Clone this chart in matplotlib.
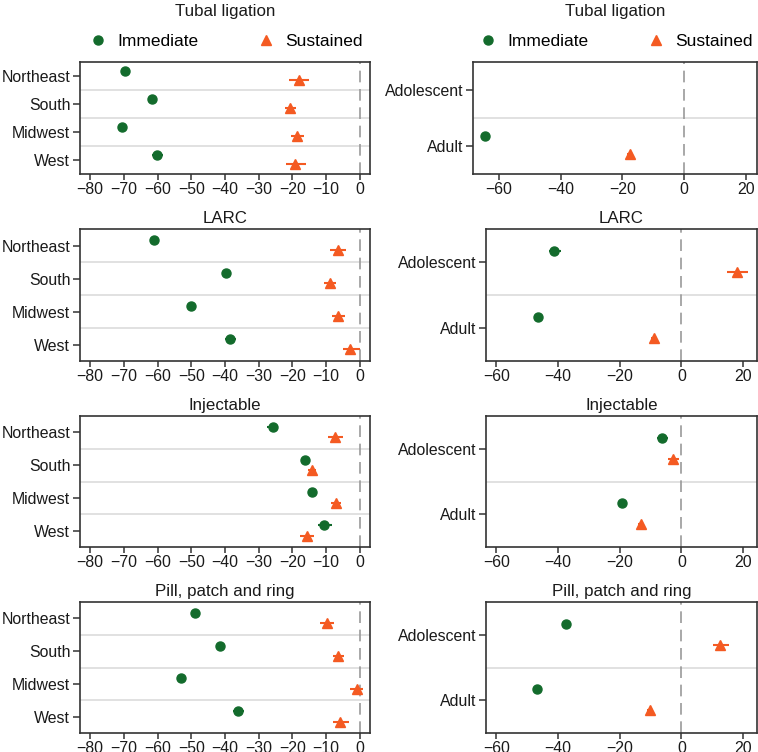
import matplotlib
matplotlib.use("Agg")
import matplotlib.pyplot as plt
from matplotlib.lines import Line2D

plt.rcParams['font.family'] = ['Liberation Sans', 'DejaVu Sans']

# ---------------- data ----------------
methods = ["Tubal ligation", "LARC", "Injectable", "Pill, patch and ring"]
regions = ["Northeast", "South", "Midwest", "West"]
ages = ["Adolescent", "Adult"]

# Region panels (left column): point estimates and 95% CI
reg_imm = {
    "Tubal ligation": [-69.8, -61.5, -70.5, -60.2],
    "LARC": [-61.0, -39.8, -50.1, -38.4],
    "Injectable": [-25.9, -16.2, -14.3, -10.5],
    "Pill, patch and ring": [-48.9, -41.6, -53.0, -36.0],
}
reg_imm_lo = {
    "Tubal ligation": [-70.6, -62.2, -71.2, -61.7],
    "LARC": [-61.6, -40.5, -50.8, -39.9],
    "Injectable": [-27.4, -17.0, -15.0, -12.5],
    "Pill, patch and ring": [-49.6, -42.3, -53.7, -37.6],
}
reg_imm_hi = {
    "Tubal ligation": [-69.0, -60.8, -69.8, -58.5],
    "LARC": [-60.4, -39.1, -49.4, -36.8],
    "Injectable": [-24.2, -15.4, -13.6, -8.4],
    "Pill, patch and ring": [-48.2, -40.9, -52.3, -34.3],
}
reg_sus = {
    "Tubal ligation": [-18.1, -20.6, -18.6, -19.1],
    "LARC": [-6.5, -9.0, -6.4, -2.8],
    "Injectable": [-7.4, -14.3, -7.1, -15.8],
    "Pill, patch and ring": [-9.9, -6.4, -1.0, -5.8],
}
reg_sus_lo = {
    "Tubal ligation": [-21.1, -22.2, -20.5, -21.9],
    "LARC": [-8.9, -10.5, -8.3, -5.1],
    "Injectable": [-9.4, -15.5, -8.5, -17.8],
    "Pill, patch and ring": [-11.8, -8.1, -2.8, -8.0],
}
reg_sus_hi = {
    "Tubal ligation": [-15.0, -18.9, -16.6, -16.1],
    "LARC": [-4.0, -7.2, -4.4, -0.1],
    "Injectable": [-5.1, -13.0, -5.6, -13.6],
    "Pill, patch and ring": [-7.8, -4.7, 0.8, -3.3],
}

# Age panels (right column); None = not estimated
age_imm = {
    "Tubal ligation": [None, -64.3],
    "LARC": [-41.3, -46.5],
    "Injectable": [-6.2, -19.1],
    "Pill, patch and ring": [-37.3, -46.7],
}
age_imm_lo = {
    "Tubal ligation": [None, -65.0],
    "LARC": [-43.0, -47.2],
    "Injectable": [-8.0, -19.8],
    "Pill, patch and ring": [-38.0, -47.4],
}
age_imm_hi = {
    "Tubal ligation": [None, -63.6],
    "LARC": [-39.1, -45.8],
    "Injectable": [-4.4, -18.4],
    "Pill, patch and ring": [-36.6, -46.0],
}
age_sus = {
    "Tubal ligation": [None, -17.5],
    "LARC": [18.1, -8.8],
    "Injectable": [-2.8, -13.0],
    "Pill, patch and ring": [12.4, -10.1],
}
age_sus_lo = {
    "Tubal ligation": [None, -18.5],
    "LARC": [14.8, -9.8],
    "Injectable": [-4.4, -14.0],
    "Pill, patch and ring": [10.1, -11.1],
}
age_sus_hi = {
    "Tubal ligation": [None, -16.5],
    "LARC": [21.5, -7.8],
    "Injectable": [-0.8, -12.0],
    "Pill, patch and ring": [15.5, -9.1],
}

left_xticks = [-80, -70, -60, -50, -40, -30, -20, -10, 0]
right_xticks = [-60, -40, -20, 0, 20]

GREEN = "#136b2c"
ORANGE = "#f45a22"
SPINE = "#333333"
SEP = "#dcdcdc"
ZERO = "#999999"
TXT = "#1a1a1a"

W, H = 758, 752
fig = plt.figure(figsize=(W / 100, H / 100), dpi=100)

# panel rectangles in pixels (top, bottom)
rows_px = [(62, 174), (229, 361), (416, 547), (602, 733)]
left_px = (80, 370)
right_px = [(473, 757), (486, 757), (486, 757), (486, 757)]


def rect(x0, x1, top, bot):
    return [x0 / W, 1 - bot / H, (x1 - x0) / W, (bot - top) / H]


def style(ax):
    for s in ax.spines.values():
        s.set_color(SPINE)
        s.set_linewidth(1.2)
    ax.tick_params(axis='both', colors=SPINE, labelcolor=TXT,
                   labelsize=11.4, width=1.1)
    ax.tick_params(axis='y', length=5, pad=2)
    ax.tick_params(axis='x', length=4, pad=1.5)


def draw(ax, cats, imm, imm_lo, imm_hi, sus, sus_lo, sus_hi):
    n = len(cats)
    for k in range(n - 1):
        ax.axhline(k + 0.5, color=SEP, lw=1.2, zorder=1)
    ax.axvline(0, color=ZERO, lw=1.2, dashes=(7, 4), zorder=1)
    for i in range(n):
        if imm[i] is not None:
            ax.errorbar([imm[i]], [i - 0.17],
                        xerr=[[imm[i] - imm_lo[i]], [imm_hi[i] - imm[i]]],
                        fmt='o', color=GREEN, ms=6.5, elinewidth=1.5,
                        capsize=0, zorder=3)
        if sus[i] is not None:
            ax.errorbar([sus[i]], [i + 0.15],
                        xerr=[[sus[i] - sus_lo[i]], [sus_hi[i] - sus[i]]],
                        fmt='^', color=ORANGE, ms=7, elinewidth=1.5,
                        capsize=0, zorder=3)
    ax.set_yticks(range(n))
    ax.set_yticklabels(cats)
    ax.set_ylim(n - 0.5, -0.5)


for r, m in enumerate(methods):
    top, bot = rows_px[r]
    axl = fig.add_axes(rect(left_px[0], left_px[1], top, bot))
    draw(axl, regions, reg_imm[m], reg_imm_lo[m], reg_imm_hi[m],
         reg_sus[m], reg_sus_lo[m], reg_sus_hi[m])
    axl.set_xlim(-83, 3)
    axl.set_xticks(left_xticks)
    style(axl)

    rx0, rx1 = right_px[r]
    axr = fig.add_axes(rect(rx0, rx1, top, bot))
    draw(axr, ages, age_imm[m], age_imm_lo[m], age_imm_hi[m],
         age_sus[m], age_sus_lo[m], age_sus_hi[m])
    if r == 0:
        axr.set_xlim(-68.3, 23.5)
    else:
        axr.set_xlim(-63.3, 24.5)
    axr.set_xticks(right_xticks)
    style(axr)

    for ax in (axl, axr):
        if r == 0:
            ax.set_title(m, fontsize=12.2, pad=33, color=TXT)
            handles = [
                Line2D([], [], marker='o', ls='none', color=GREEN, ms=6.5),
                Line2D([], [], marker='^', ls='none', color=ORANGE, ms=7),
            ]
            ax.legend(handles, ["Immediate", "Sustained"], ncol=2,
                      loc='center', bbox_to_anchor=(0.5, 1.18),
                      frameon=False, fontsize=12.5, columnspacing=3.3,
                      handletextpad=0.5, handlelength=1.2,
                      borderaxespad=0, borderpad=0)
        else:
            ax.set_title(m, fontsize=12.2, pad=4, color=TXT)

fig.savefig("out.png", dpi=100)
